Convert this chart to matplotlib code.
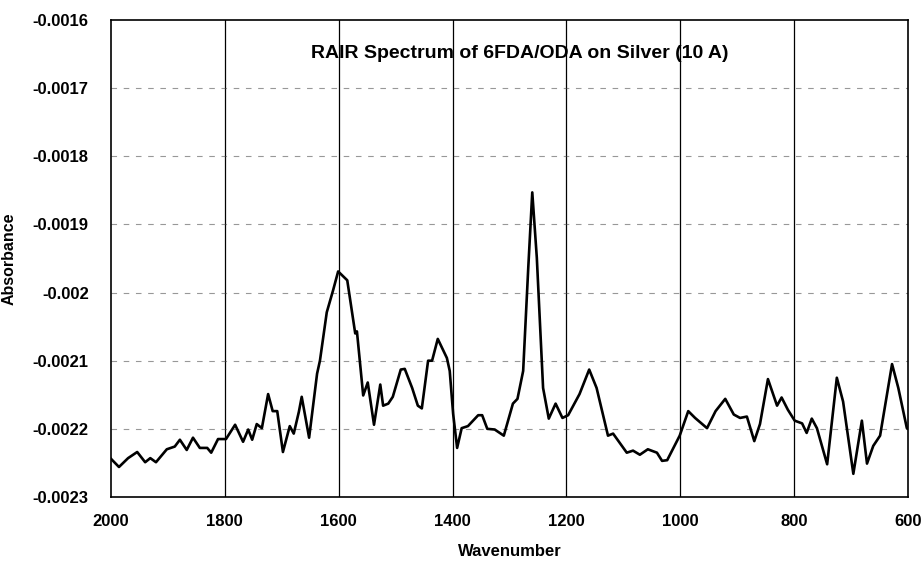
"""
RAIR spectrum of a 6FDA/ODA film on silver, 2000-600 cm-1 window.
"""
import matplotlib
matplotlib.use("Agg")
import matplotlib.pyplot as plt

# ── spectrum ──────────────────────────────────────────────────────────────────
wavenumber = [
    2000, 1986, 1970, 1954, 1940, 1931, 1921, 1902, 1888, 1879, 1867, 1856,
    1844, 1831, 1824, 1812, 1798, 1782, 1768, 1759, 1752, 1744, 1735, 1724,
    1716, 1708, 1698, 1686, 1679, 1670, 1665, 1652, 1638, 1633, 1621, 1610,
    1601, 1585, 1571, 1568, 1557, 1549, 1538, 1527, 1522, 1513, 1505, 1491,
    1484, 1471, 1461, 1454, 1443, 1436, 1426, 1410, 1405, 1399, 1392, 1384,
    1373, 1355, 1348, 1339, 1326, 1310, 1294, 1286, 1276, 1267, 1260, 1252,
    1241, 1231, 1219, 1207, 1197, 1177, 1160, 1147, 1127, 1118, 1094, 1083,
    1071, 1057, 1041, 1032, 1023, 1001, 986, 974, 953, 938, 921, 906, 895,
    883, 870, 860, 846, 830, 822, 811, 799, 786, 778, 769, 760, 742, 725,
    714, 696, 681, 672, 661, 649, 628, 617, 602, 600,
]
absorbance = [
    -0.002244, -0.002256, -0.002243, -0.002234, -0.002249, -0.002243,
    -0.002249, -0.002230, -0.002226, -0.002216, -0.002231, -0.002213,
    -0.002228, -0.002228, -0.002235, -0.002215, -0.002215, -0.002194,
    -0.002219, -0.002201, -0.002216, -0.002193, -0.002199, -0.002149,
    -0.002174, -0.002174, -0.002234, -0.002196, -0.002207, -0.002175,
    -0.002153, -0.002213, -0.002119, -0.002100, -0.002029, -0.001997,
    -0.001969, -0.001982, -0.002060, -0.002057, -0.002151, -0.002132,
    -0.002194, -0.002135, -0.002166, -0.002163, -0.002153, -0.002113,
    -0.002112, -0.002140, -0.002166, -0.002170, -0.002100, -0.002100,
    -0.002068, -0.002096, -0.002115, -0.002178, -0.002228, -0.002199,
    -0.002196, -0.002180, -0.002180, -0.002200, -0.002201, -0.002210,
    -0.002163, -0.002156, -0.002115, -0.001963, -0.001853, -0.001949,
    -0.002140, -0.002185, -0.002163, -0.002184, -0.002180, -0.002149,
    -0.002113, -0.002140, -0.002210, -0.002207, -0.002235, -0.002232,
    -0.002238, -0.002230, -0.002235, -0.002247, -0.002246, -0.002210,
    -0.002174, -0.002184, -0.002199, -0.002174, -0.002156, -0.002179,
    -0.002184, -0.002182, -0.002218, -0.002193, -0.002127, -0.002166,
    -0.002154, -0.002172, -0.002188, -0.002192, -0.002206, -0.002185,
    -0.002199, -0.002252, -0.002125, -0.002160, -0.002266, -0.002188,
    -0.002251, -0.002225, -0.002210, -0.002105, -0.002140, -0.002199,
    -0.002200,
]

x_ticks = [2000, 1800, 1600, 1400, 1200, 1000, 800, 600]
y_ticks = [-0.0023, -0.0022, -0.0021, -0.002, -0.0019, -0.0018, -0.0017, -0.0016]
y_labels = ["-0.0023", "-0.0022", "-0.0021", "-0.002",
            "-0.0019", "-0.0018", "-0.0017", "-0.0016"]

plt.rcParams["font.family"] = ["Liberation Sans", "DejaVu Sans"]
plt.rcParams["font.weight"] = "bold"

fig = plt.figure(figsize=(9.22, 5.62), dpi=100)
ax = fig.add_axes([0.1204, 0.1157, 0.8644, 0.8487])

# grid: solid verticals, broken horizontals
for xv in x_ticks[1:-1]:
    ax.axvline(xv, color="black", lw=0.9, zorder=1)
for yv in y_ticks[1:-1]:
    ax.axhline(yv, color="#444444", lw=0.8, ls=(0, (5, 6)), alpha=0.55, zorder=1)

ax.plot(wavenumber, absorbance, color="black", lw=1.9, zorder=3)

ax.set_xlim(2000, 600)
ax.set_ylim(-0.0023, -0.0016)
ax.set_xticks(x_ticks)
ax.set_xticklabels([str(v) for v in x_ticks], fontsize=12, fontweight="bold")
ax.set_yticks(y_ticks)
ax.set_yticklabels(y_labels, fontsize=12, fontweight="bold")
ax.tick_params(axis="both", length=0)
ax.tick_params(axis="x", pad=12)
ax.tick_params(axis="y", pad=16)
for sp in ax.spines.values():
    sp.set_linewidth(1.2)

ax.set_xlabel("Wavenumber", fontsize=12, fontweight="bold", labelpad=11)
ax.set_ylabel("Absorbance", fontsize=11.5, fontweight="bold", labelpad=12)
ax.text(0.5125, 0.93, "RAIR Spectrum of 6FDA/ODA on Silver (10 A)",
        transform=ax.transAxes, ha="center", va="center",
        fontsize=14, fontweight="bold")

fig.savefig("out.png", dpi=100)
